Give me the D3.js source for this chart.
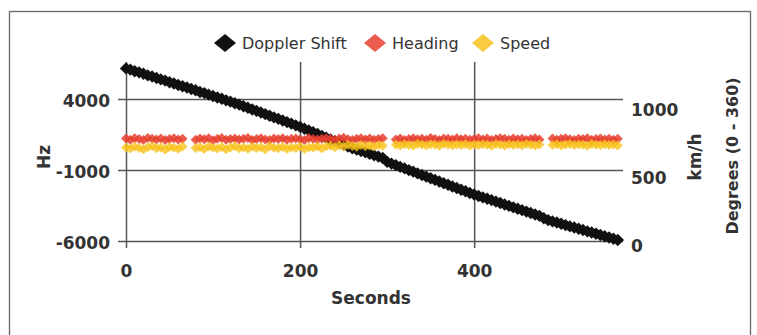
<!DOCTYPE html>
<html>
<head>
<meta charset="utf-8">
<style>
  body { margin: 0; background: #fff; }
  .axis text { font-family: "DejaVu Sans", sans-serif; font-size: 17px; font-weight: bold; fill: #333; }
  .axis line { stroke: #555; stroke-width: 1.5; }
  .title { font-family: "DejaVu Sans", sans-serif; font-weight: bold; fill: #333; }
  .legend text { font-family: "DejaVu Sans", sans-serif; font-size: 16px; fill: #333; }
</style>
</head>
<body>
<svg width="757" height="335"></svg>
<script src="https://cdn.jsdelivr.net/npm/d3@7"></script>
<script>

// seconds
var seconds = [0,5,10,15,20,25,30,35,40,45,50,55,60,65,70,75,80,85,90,95,
  100,105,110,115,120,125,130,135,140,145,150,155,160,165,170,175,180,185,190,195,
  200,205,210,215,220,225,230,235,240,245,250,255,260,265,270,275,280,285,290,295,
  300,305,310,315,320,325,330,335,340,345,350,355,360,365,370,375,380,385,390,395,
  400,405,410,415,420,425,430,435,440,445,450,455,460,465,470,475,480,485,490,495,
  500,505,510,515,520,525,530,535,540,545,550,555,560,565];

// Hz (left axis)
var doppler = [6150,6060,5950,5870,5770,5660,5580,5470,5380,5290,5170,5090,4980,4890,4800,4700,4610,4490,4410,4300,
  4210,4100,4010,3900,3810,3700,3600,3490,3380,3260,3160,3040,2930,2820,2700,2600,2480,2370,2260,2140,
  2030,1900,1780,1650,1530,1400,1280,1150,1030,900,780,650,530,430,330,240,130,40,-60,-160,
  -430,-550,-660,-780,-890,-1010,-1120,-1240,-1350,-1470,-1580,-1700,-1810,-1930,-2040,-2160,-2270,-2390,-2500,-2620,
  -2730,-2830,-2930,-3030,-3120,-3230,-3330,-3430,-3530,-3630,-3730,-3830,-3930,-4030,-4130,-4230,-4400,-4530,-4620,-4700,
  -4790,-4880,-4970,-5050,-5140,-5230,-5320,-5400,-5490,-5580,-5670,-5750,-5840,-5930];

// right axis (km/h, degrees); null = no reading
var heading = [753,745,755,749,743,757,751,746,754,742,750,756,747,752,null,null,745,753,748,755,
  741,751,757,744,749,754,746,752,758,743,750,755,747,742,753,749,756,745,751,754,
  748,743,757,750,746,752,755,749,744,753,760,748,742,751,755,747,754,745,750,756,
  null,null,747,753,743,750,755,748,752,745,757,749,743,754,751,746,755,748,752,744,
  750,756,747,753,742,749,755,751,745,754,748,752,743,750,756,747,null,null,753,745,
  751,755,748,743,752,749,756,744,750,754,747,752,745,751];

var speed = [687,680,693,684,675,690,697,682,688,673,692,685,679,694,null,null,683,689,676,695,
  685,680,691,674,688,696,682,687,678,693,684,690,675,697,686,681,692,679,688,683,
  695,677,689,685,694,680,697,701,690,704,695,707,699,693,705,697,702,694,706,700,
  null,null,708,702,712,706,700,714,709,703,711,707,701,715,708,704,710,706,713,702,
  709,705,712,707,701,714,708,703,711,706,710,704,713,707,702,709,null,null,706,712,
  703,709,714,705,710,707,701,713,708,704,711,706,709,703];

var xTicks = [0, 200, 400];
var yTicks = [-6000, -1000, 4000];
var y2Ticks = [0, 500, 1000];

var seriesNames = ["Doppler Shift", "Heading", "Speed"];
var seriesColors = ["#111111", "#e8402f", "#f8c21c"];

var svg = d3.select("svg"),
    margin = {top: 62, right: 134, bottom: 94, left: 126},
    width = +svg.attr("width") - margin.left - margin.right,
    height = +svg.attr("height") - margin.top - margin.bottom,
    g = svg.append("g").attr("transform", "translate(" + margin.left + "," + margin.top + ")");

// outer frame
svg.append("rect")
    .attr("x", 9.5).attr("y", 11.5)
    .attr("width", 741).attr("height", 340)
    .attr("fill", "none")
    .attr("stroke", "#666")
    .attr("stroke-width", 1.3);

var x = d3.scaleLinear().domain([0, 571]).range([0, width]);
var y = d3.scaleLinear().domain([-6000, 6600]).range([height, 0]);
var y2 = d3.scaleLinear().domain([0, 1316]).range([height, 0]);

var plain = function(d) { return String(d); };

// grid + axes
var gx = g.append("g")
    .attr("class", "axis")
    .attr("transform", "translate(0," + height + ")")
    .call(d3.axisBottom(x).tickValues(xTicks).tickFormat(plain).tickSize(-height).tickPadding(24));
gx.select(".domain").remove();
gx.selectAll(".tick line").attr("y1", 7);

var gy = g.append("g")
    .attr("class", "axis")
    .call(d3.axisLeft(y).tickValues(yTicks).tickFormat(plain).tickSize(-width).tickPadding(16));
gy.select(".domain").remove();
gy.selectAll(".tick line").attr("x1", -8);
gy.selectAll(".tick text").attr("dy", "0.42em");

var gy2 = g.append("g")
    .attr("class", "axis")
    .attr("transform", "translate(" + width + ",0)")
    .call(d3.axisRight(y2).tickValues(y2Ticks).tickFormat(plain).tickSize(0).tickPadding(8));
gy2.select(".domain").remove();
gy2.selectAll(".tick text").attr("dy", "0.6em");

var pts = seconds.map(function(t, i) {
  return {t: t, hz: doppler[i], head: heading[i], speed: speed[i]};
});

var diamond = function(r) {
  return "M0," + (-r) + "L" + r + ",0L0," + r + "L" + (-r) + ",0Z";
};

g.append("g").selectAll("path")
    .data(pts).enter().append("path")
    .attr("d", diamond(6.2))
    .attr("transform", function(d) { return "translate(" + x(d.t) + "," + y(d.hz) + ")"; })
    .attr("fill", seriesColors[0]);

g.append("g").selectAll("path")
    .data(pts.filter(function(d) { return d.head != null; })).enter().append("path")
    .attr("d", diamond(5))
    .attr("transform", function(d) { return "translate(" + x(d.t) + "," + y2(d.head) + ")"; })
    .attr("fill", seriesColors[1])
    .attr("fill-opacity", 0.85);

g.append("g").selectAll("path")
    .data(pts.filter(function(d) { return d.speed != null; })).enter().append("path")
    .attr("d", diamond(5))
    .attr("transform", function(d) { return "translate(" + x(d.t) + "," + y2(d.speed) + ")"; })
    .attr("fill", seriesColors[2])
    .attr("fill-opacity", 0.8);

// axis titles
svg.append("text").attr("class", "title")
    .attr("transform", "translate(44,157) rotate(-90)")
    .attr("text-anchor", "middle").attr("dy", "0.35em")
    .style("font-size", "17px")
    .text("Hz");

svg.append("text").attr("class", "title")
    .attr("x", 371).attr("y", 304)
    .attr("text-anchor", "middle")
    .style("font-size", "17px")
    .text("Seconds");

svg.append("text").attr("class", "title")
    .attr("transform", "translate(695,157) rotate(-90)")
    .attr("text-anchor", "middle").attr("dy", "0.35em")
    .style("font-size", "17px")
    .text("km/h");

svg.append("text").attr("class", "title")
    .attr("transform", "translate(732,156) rotate(-90)")
    .attr("text-anchor", "middle").attr("dy", "0.35em")
    .style("font-size", "16px")
    .text("Degrees  (0 - 360)");

// legend
var legendX = [225, 375, 483];
var legend = svg.append("g").attr("class", "legend");
seriesNames.forEach(function(name, i) {
  legend.append("path")
      .attr("d", "M0,-9L11,0L0,9L-11,0Z")
      .attr("transform", "translate(" + legendX[i] + ",43)")
      .attr("fill", seriesColors[i])
      .attr("fill-opacity", i ? 0.85 : 1);
  legend.append("text")
      .attr("x", legendX[i] + 17)
      .attr("y", 49)
      .text(name);
});

</script>
</body>
</html>
